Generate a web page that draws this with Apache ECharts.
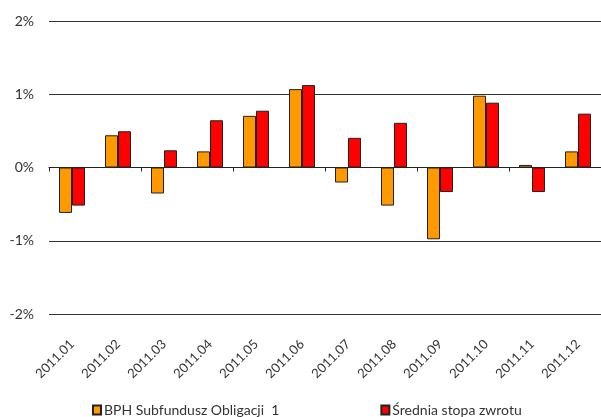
<!DOCTYPE html>
<html><head><meta charset="utf-8">
<script src="https://cdn.jsdelivr.net/npm/echarts@6/dist/echarts.min.js"></script>
<style>html,body{margin:0;padding:0;background:#fff}#c{width:601px;height:417px}</style>
</head><body><div id="c"></div>
<script>
const categories = ['2011.01','2011.02','2011.03','2011.04','2011.05','2011.06','2011.07','2011.08','2011.09','2011.10','2011.11','2011.12'];
const fundName = 'BPH Subfundusz Obligacji  1';
const avgName = 'Średnia stopa zwrotu';
const fundValues = [-0.62, 0.44, -0.355, 0.22, 0.705, 1.07, -0.205, -0.52, -0.98, 0.98, 0.035, 0.22];
const avgValues = [-0.52, 0.495, 0.235, 0.645, 0.775, 1.125, 0.405, 0.61, -0.335, 0.885, -0.335, 0.735];
const yTicks = [-2, -1, 0, 1, 2];

const font = 'Lato, "Open Sans", sans-serif';
const chart = echarts.init(document.getElementById('c'), null, {renderer: 'canvas'});
chart.setOption({
  animation: false,
  grid: {left: 49, top: 21, width: 556, height: 293, containLabel: false},
  xAxis: [{
    type: 'category', data: categories, position: 'bottom',
    axisLine: {onZero: true, lineStyle: {color: '#222', width: 1}},
    axisTick: {show: true, length: 4, lineStyle: {color: '#222'}},
    axisLabel: {show: false}
  }, {
    type: 'category', data: categories, position: 'bottom',
    axisLine: {show: false, onZero: false}, axisTick: {show: false},
    axisLabel: {rotate: 45, margin: 28, color: '#333', fontSize: 13, fontFamily: font}
  }],
  yAxis: {
    type: 'value', min: yTicks[0], max: yTicks[yTicks.length - 1], interval: 1,
    axisLine: {show: false}, axisTick: {show: false},
    splitLine: {lineStyle: {color: '#333', width: 1}},
    axisLabel: {formatter: v => v + '%', color: '#333', fontSize: 14, fontFamily: font, margin: 15}
  },
  legend: {
    bottom: -5, left: 87, itemWidth: 8, itemHeight: 9, itemGap: 101,
    icon: 'rect',
    textStyle: {color: '#333', fontSize: 14, fontFamily: font, padding: [0, 0, 0, -2]},
    data: [fundName, avgName]
  },
  series: [{
    name: fundName, type: 'bar', xAxisIndex: 0, data: fundValues,
    barWidth: 13, barGap: '0%',
    itemStyle: {color: '#FF9900', borderColor: '#222', borderWidth: 1}
  }, {
    name: avgName, type: 'bar', xAxisIndex: 0, data: avgValues,
    barWidth: 13, barGap: '0%',
    itemStyle: {color: '#FF0000', borderColor: '#222', borderWidth: 1}
  }]
});
</script></body></html>
